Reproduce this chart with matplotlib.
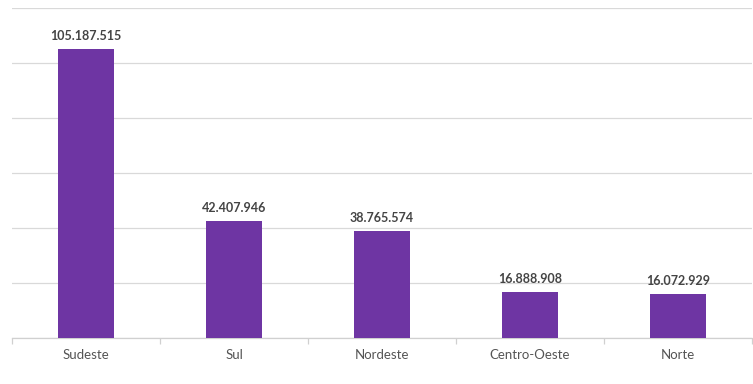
import matplotlib
matplotlib.use("Agg")
import matplotlib.pyplot as plt
from matplotlib.ticker import MultipleLocator, FixedLocator

categories = ["Sudeste", "Sul", "Nordeste", "Centro-Oeste", "Norte"]
values = [105187515, 42407946, 38765574, 16888908, 16072929]

plt.rcParams['font.family'] = ['Lato', 'DejaVu Sans']

fig = plt.figure(figsize=(7.53, 3.84), dpi=100)
ax = fig.add_axes([12/753, 1-338/384, 740/753, 330/384])

x = list(range(len(categories)))
bars = ax.bar(x, values, width=0.385, color="#6E35A3", zorder=3)

ax.set_xlim(-0.5, len(categories) - 0.5)
ax.set_ylim(0, 120_000_000)
ax.yaxis.set_major_locator(MultipleLocator(20_000_000))
ax.grid(axis='y', color="#d9d9d9", linewidth=0.9, zorder=0)
ax.set_yticklabels([])
ax.tick_params(axis='y', length=0)

ax.set_xticks(x)
ax.set_xticklabels(categories, fontsize=9.5, color="#555555")
ax.tick_params(axis='x', which='major', length=0, pad=8)
ax.xaxis.set_minor_locator(FixedLocator([i - 0.5 for i in range(len(categories) + 1)]))
ax.tick_params(axis='x', which='minor', length=4, color="#d0d0d0", width=0.9)

for s in ["top", "right", "left"]:
    ax.spines[s].set_visible(False)
ax.spines["bottom"].set_color("#d0d0d0")
ax.spines["bottom"].set_linewidth(0.9)

for b, v in zip(bars, values):
    label = f"{v:,}".replace(",", ".")
    ax.annotate(label, (b.get_x() + b.get_width() / 2, v), xytext=(0, 5),
                textcoords="offset points", ha="center", va="bottom",
                fontsize=9, fontweight="bold", color="#444444")

fig.savefig("out.png", dpi=100)
